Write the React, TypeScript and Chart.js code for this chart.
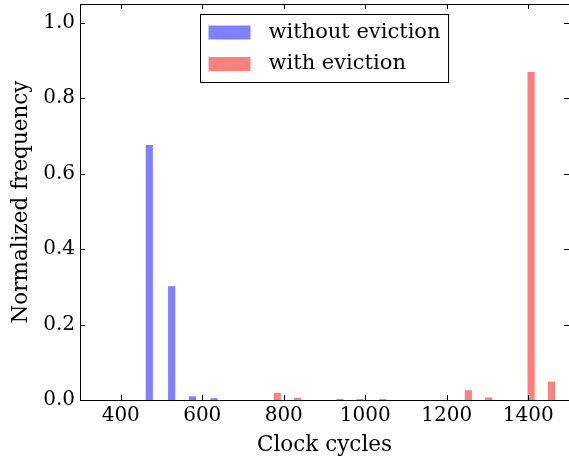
import React, { useEffect, useRef } from "react";
import { Chart, registerables } from "chart.js";

Chart.register(...registerables);

const SERIES_LABELS = ["without eviction", "with eviction"];
const BINS_WITHOUT = [470, 525, 576, 629];
const FREQ_WITHOUT = [0.675, 0.301, 0.009, 0.004];
const BINS_WITH = [784, 834, 938, 987, 1043, 1253, 1303, 1407, 1457];
const FREQ_WITH = [0.018, 0.005, 0.002, 0.002, 0.002, 0.025, 0.006, 0.869, 0.048];
const X_TICKS = [400, 600, 800, 1000, 1200, 1400];
const Y_TICKS = [0, 0.2, 0.4, 0.6, 0.8, 1.0];
const X_TITLE = "Clock cycles";
const Y_TITLE = "Normalized frequency";

const COLORS = ["rgba(0,0,255,0.5)", "rgba(255,0,0,0.5)"];
const FONT = "DejaVu Serif";

const framePlugin = {
  id: "mplFrame",
  afterDraw(chart: any) {
    const ctx = chart.ctx;
    const { left, right, top, bottom } = chart.chartArea;
    const xs = chart.scales.x;
    const ys = chart.scales.y;
    const TL = 5;
    ctx.save();
    ctx.strokeStyle = "#000";
    ctx.lineWidth = 1;
    ctx.beginPath();
    xs.ticks.forEach((t: any) => {
      const px = Math.round(xs.getPixelForValue(t.value)) + 0.5;
      ctx.moveTo(px, bottom);
      ctx.lineTo(px, bottom - TL);
      ctx.moveTo(px, top);
      ctx.lineTo(px, top + TL);
    });
    ys.ticks.forEach((t: any) => {
      const py = Math.round(ys.getPixelForValue(t.value)) + 0.5;
      ctx.moveTo(left, py);
      ctx.lineTo(left + TL, py);
      ctx.moveTo(right, py);
      ctx.lineTo(right - TL, py);
    });
    ctx.stroke();
    ctx.strokeRect(left + 0.5, top + 0.5, right - left, bottom - top);

    // legend
    ctx.font = `21px "${FONT}"`;
    const datasets = chart.data.datasets;
    let textW = 0;
    datasets.forEach((d: any) => {
      textW = Math.max(textW, ctx.measureText(d.label).width);
    });
    const padL = 8, patchW = 42, gap = 18, padR = 8;
    const w = padL + patchW + gap + textW + padR;
    const h = 68;
    const cx = (left + right) / 2;
    const bx = Math.round(cx - w / 2) + 0.5;
    const by = top + 10.5;
    ctx.fillStyle = "#fff";
    ctx.fillRect(bx, by, w, h);
    ctx.strokeStyle = "#000";
    ctx.strokeRect(bx, by, w, h);
    datasets.forEach((d: any, i: number) => {
      const rowY = by + 18 + i * 31.5;
      ctx.fillStyle = d.backgroundColor;
      ctx.fillRect(bx + padL, rowY - 7, patchW, 14);
      ctx.fillStyle = "#000";
      ctx.textBaseline = "middle";
      ctx.textAlign = "left";
      ctx.fillText(d.label, bx + padL + patchW + gap, rowY);
    });
    ctx.restore();
  },
};

export default function App() {
  const ref = useRef<HTMLCanvasElement>(null);
  useEffect(() => {
    document.body.style.margin = "0";
    const canvas = ref.current!;
    const chart = new Chart(canvas, {
      type: "bar",
      data: {
        datasets: [
          {
            label: SERIES_LABELS[0],
            data: BINS_WITHOUT.map((x, i) => ({ x, y: FREQ_WITHOUT[i] })),
            backgroundColor: COLORS[0],
            borderWidth: 0,
            barThickness: 6.5,
            grouped: false,
          },
          {
            label: SERIES_LABELS[1],
            data: BINS_WITH.map((x, i) => ({ x, y: FREQ_WITH[i] })),
            backgroundColor: COLORS[1],
            borderWidth: 0,
            barThickness: 6.5,
            grouped: false,
          },
        ] as any,
      },
      options: {
        animation: false,
        responsive: false,
        layout: { padding: { top: 4, right: 0, left: 0, bottom: 0 } },
        plugins: {
          legend: { display: false },
          tooltip: { enabled: false },
        },
        scales: {
          x: {
            type: "linear",
            min: 300,
            max: 1500,
            offset: false,
            afterBuildTicks: (s: any) => {
              s.ticks = X_TICKS.map((v) => ({ value: v }));
            },
            afterFit: (s: any) => {
              s.height = 57;
              s.paddingLeft = 0;
              s.paddingRight = 0;
            },
            grid: { display: false, drawTicks: false },
            border: { display: false },
            ticks: {
              padding: 4,
              color: "#000",
              font: { family: FONT, size: 20 },
              callback: (v: any) => String(v),
              maxRotation: 0,
            },
            title: {
              display: true,
              text: X_TITLE,
              color: "#000",
              font: { family: FONT, size: 21.5 },
              padding: { top: 0, bottom: -1 },
            },
          },
          y: {
            type: "linear",
            min: 0,
            max: 1.05,
            afterBuildTicks: (s: any) => {
              s.ticks = Y_TICKS.map((v) => ({ value: v }));
            },
            afterFit: (s: any) => {
              s.width = 80;
              s.paddingTop = 0;
              s.paddingBottom = 0;
            },
            grid: { display: false, drawTicks: false },
            border: { display: false },
            ticks: {
              padding: 5,
              color: "#000",
              font: { family: FONT, size: 20 },
              callback: (v: any) => Number(v).toFixed(1),
            },
            title: {
              display: true,
              text: Y_TITLE,
              color: "#000",
              font: { family: FONT, size: 21.5 },
              padding: { top: 9, bottom: 0 },
            },
          },
        },
      },
      plugins: [framePlugin],
    });
    return () => chart.destroy();
  }, []);
  return (
    <div style={{ position: "absolute", left: 0, top: 0, width: 569, height: 457 }}>
      <canvas ref={ref} width={569} height={457} style={{ width: 569, height: 457 }} />
    </div>
  );
}
